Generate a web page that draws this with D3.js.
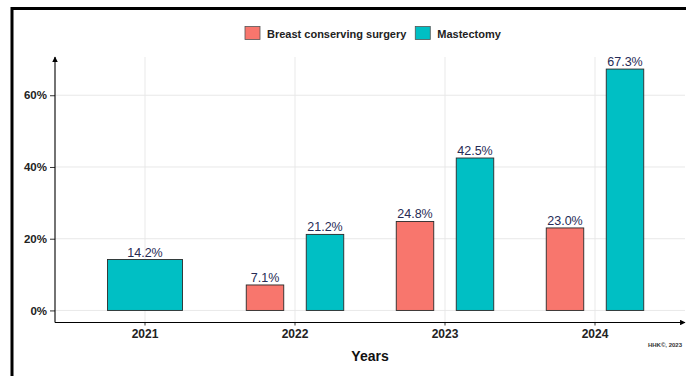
<!DOCTYPE html>
<html>
<head>
<meta charset="utf-8">
<script src="https://cdn.jsdelivr.net/npm/d3@7"></script>
<style>
  body { margin: 0; background: #fff; }
  text { font-family: "Liberation Sans", Arial, sans-serif; }
</style>
</head>
<body>
<svg id="chart" width="686" height="376"></svg>
<script>
// chart data
const years = ['2021', '2022', '2023', '2024'];
const surgeryTypes = ['Breast conserving surgery', 'Mastectomy'];
const bcsValues = [null, 7.1, 24.8, 23.0];
const mastectomyValues = [14.2, 21.2, 42.5, 67.3];
const yTicks = [0, 20, 40, 60];
const colors = ['#F8766D', '#00BFC4'];

const width = 686, height = 376;
const panel = { left: 55, right: 685, top: 57, bottom: 322.5 };

const svg = d3.select('#chart');

// outer frame (top + left only visible)
svg.append('line').attr('x1', 11).attr('x2', width).attr('y1', 8.5).attr('y2', 8.5)
  .attr('stroke', '#000').attr('stroke-width', 3);
svg.append('line').attr('x1', 12).attr('x2', 12).attr('y1', 7).attr('y2', height)
  .attr('stroke', '#000').attr('stroke-width', 3);

const x = d3.scaleBand().domain(years)
  .range([panel.left, panel.right]).paddingInner(0).paddingOuter(0.1);
const xSub = d3.scaleBand().domain(surgeryTypes).range([-60, 60]);
const barW = 37.5;

const maxV = d3.max(mastectomyValues);
const y = d3.scaleLinear().domain([-maxV * 0.05, maxV * 1.05])
  .range([panel.bottom, panel.top]);

const rows = [];
years.forEach((yr, i) => {
  const vals = [bcsValues[i], mastectomyValues[i]];
  const present = surgeryTypes.filter((s, j) => vals[j] != null);
  surgeryTypes.forEach((s, j) => {
    if (vals[j] == null) return;
    const cx = x(yr) + x.bandwidth() / 2;
    if (present.length === 1) {
      rows.push({ year: yr, type: s, value: vals[j], x0: cx - barW, x1: cx + barW, c: colors[j] });
    } else {
      const sc = cx + xSub(s) + xSub.bandwidth() / 2;
      rows.push({ year: yr, type: s, value: vals[j], x0: sc - barW / 2, x1: sc + barW / 2, c: colors[j] });
    }
  });
});

// gridlines
const grid = svg.append('g').attr('stroke', '#e6e6e6').attr('stroke-width', 0.9);
grid.selectAll('.hg').data(yTicks).enter().append('line')
  .attr('x1', panel.left).attr('x2', panel.right)
  .attr('y1', d => y(d)).attr('y2', d => y(d));
grid.selectAll('.vg').data(years).enter().append('line')
  .attr('x1', d => x(d) + x.bandwidth() / 2).attr('x2', d => x(d) + x.bandwidth() / 2)
  .attr('y1', panel.top).attr('y2', panel.bottom);

// bars
svg.append('g').selectAll('rect').data(rows).enter().append('rect')
  .attr('x', d => d.x0).attr('width', d => d.x1 - d.x0)
  .attr('y', d => y(d.value)).attr('height', d => y(0) - y(d.value))
  .attr('fill', d => d.c).attr('stroke', '#2a2a2a').attr('stroke-width', 0.9);

// value labels
svg.append('g').selectAll('text').data(rows).enter().append('text')
  .attr('x', d => (d.x0 + d.x1) / 2).attr('y', d => y(d.value) - 3)
  .attr('text-anchor', 'middle').attr('font-size', 12.5).attr('fill', '#262b55')
  .text(d => d.value.toFixed(1) + '%');

// axes
const yAxis = svg.append('g').attr('transform', `translate(${panel.left},0)`)
  .call(d3.axisLeft(y).tickValues(yTicks).tickSize(5).tickPadding(3).tickFormat(d => d + '%'));
yAxis.select('.domain').remove();
yAxis.selectAll('text').attr('font-size', 11.5).attr('font-weight', 'bold').attr('fill', '#222')
  .attr('font-family', '"Liberation Sans", Arial, sans-serif');
yAxis.selectAll('line').attr('stroke', '#333');

const xAxis = svg.append('g').attr('transform', `translate(0,${panel.bottom})`)
  .call(d3.axisBottom(x).tickSize(3).tickPadding(4));
xAxis.select('.domain').remove();
xAxis.selectAll('text').attr('font-size', 12).attr('font-weight', 'bold').attr('fill', '#222')
  .attr('font-family', '"Liberation Sans", Arial, sans-serif');
xAxis.selectAll('line').attr('stroke', '#333');

// axis lines with arrows
const defs = svg.append('defs');
defs.append('marker').attr('id', 'arrow').attr('viewBox', '0 0 10 10')
  .attr('refX', 9).attr('refY', 5).attr('markerWidth', 5).attr('markerHeight', 5)
  .attr('orient', 'auto')
  .append('path').attr('d', 'M0,0 L10,5 L0,10 z').attr('fill', '#000');
svg.append('line').attr('x1', panel.left).attr('x2', panel.left)
  .attr('y1', panel.bottom).attr('y2', panel.top)
  .attr('stroke', '#000').attr('stroke-width', 1.1).attr('marker-end', 'url(#arrow)');
svg.append('line').attr('x1', panel.left).attr('x2', panel.right)
  .attr('y1', panel.bottom).attr('y2', panel.bottom)
  .attr('stroke', '#000').attr('stroke-width', 1.1).attr('marker-end', 'url(#arrow)');

// axis title
svg.append('text').attr('x', (panel.left + panel.right) / 2).attr('y', 361)
  .attr('text-anchor', 'middle').attr('font-size', 14).attr('font-weight', 'bold')
  .attr('fill', '#111').text('Years');

// caption
svg.append('text').attr('x', 682).attr('y', 347).attr('text-anchor', 'end')
  .attr('font-size', 6).attr('font-weight', 'bold').attr('fill', '#333').text('HHK©, 2023');

// legend
const legend = svg.append('g');
const items = legend.selectAll('g').data(surgeryTypes).enter().append('g');
items.append('rect').attr('width', 15).attr('height', 13).attr('y', 26.5)
  .attr('fill', (d, i) => colors[i]).attr('stroke', '#555').attr('stroke-width', 0.8);
items.append('text').attr('x', 22).attr('y', 37.5).attr('font-size', 11)
  .attr('font-weight', 'bold').attr('fill', '#222').text(d => d);
let lx = 245;
items.each(function () {
  d3.select(this).attr('transform', `translate(${lx},0)`);
  lx += this.getBBox().width + 8;
});
</script>
</body>
</html>
